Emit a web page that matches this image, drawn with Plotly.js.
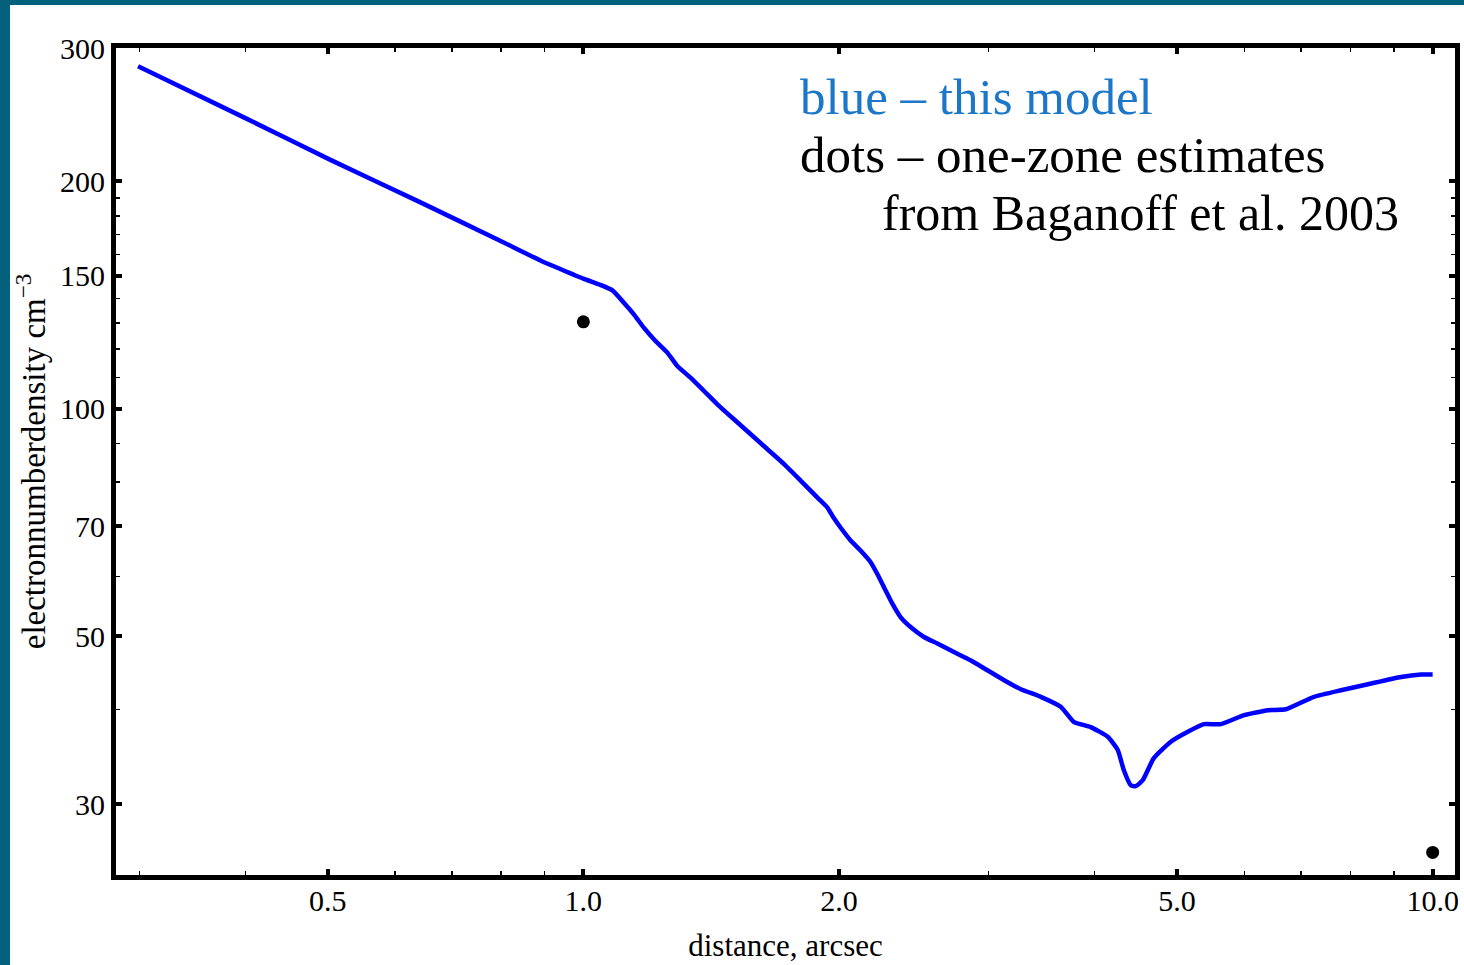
<!DOCTYPE html>
<html><head><meta charset="utf-8">
<script src="https://cdn.plot.ly/plotly-3.0.1.min.js"></script>
<style>
html,body{margin:0;padding:0;background:#04617d;width:1464px;height:965px;overflow:hidden;}
#chart{position:absolute;left:10px;top:5px;width:1454px;height:960px;background:#fff;}
</style></head><body><div id="chart"></div><script>
// model curve (blue): distance in arcsec, electron number density in cm^-3
const distArcsec = [0.299,0.400,0.503,0.643,0.799,0.890,0.940,1.000,1.047,1.082,1.116,1.146,1.178,1.216,1.255,1.290,1.337,1.386,1.437,1.503,1.573,1.646,1.722,1.802,1.885,1.937,1.970,2.008,2.064,2.120,2.179,2.218,2.269,2.311,2.363,2.428,2.518,2.611,2.731,2.857,2.990,3.129,3.274,3.456,3.648,3.779,3.957,4.144,4.258,4.328,4.411,4.472,4.557,4.695,4.917,5.149,5.378,5.632,5.996,6.398,6.718,7.247,7.798,8.391,9.177,9.688,10.0];
const density = [284.0,242.5,213.7,187.6,166.8,157.2,153.1,148.7,145.9,143.5,138.2,133.5,128.1,123.0,118.8,114.0,110.0,105.7,101.5,96.97,92.65,88.52,84.59,80.40,76.39,74.10,71.82,69.69,66.98,64.97,62.70,60.52,57.53,55.25,53.04,51.46,49.92,48.93,47.69,46.50,45.11,43.76,42.58,41.60,40.36,38.56,37.94,36.84,35.38,33.29,31.78,31.69,32.27,34.51,36.28,37.40,38.28,38.28,39.34,39.94,40.06,41.60,42.45,43.23,44.20,44.53,44.53];
// one-zone estimates (dots)
const dotDist = [1.0, 10.0];
const dotDensity = [130.4, 25.9];
// ticks
const xTickVals = [0.5, 1, 2, 5, 10];
const xTickText = ['0.5', '1.0', '2.0', '5.0', '10.0'];
const xMinorVals = [0.3, 0.4, 0.6, 0.7, 0.8, 0.9, 3, 4, 6, 7, 8, 9];
const yTickVals = [30, 50, 70, 100, 150, 200, 300];
const yTickText = ['30', '50', '70', '100', '150', '200', '300'];
const yMinorVals = [40, 60, 80, 90, 110, 120, 130, 140, 160, 170, 180, 190];
const legendLines = ['blue – this model', 'dots – one-zone estimates', 'from Baganoff et al. 2003'];

const serif = 'Liberation Serif, Times New Roman, serif';
const traces = [
  {x: distArcsec, y: density, type: 'scatter', mode: 'lines',
   line: {color: '#0000ff', width: 4.5, shape: 'spline', smoothing: 0.5}, hoverinfo: 'x+y'},
  {x: dotDist, y: dotDensity, type: 'scatter', mode: 'markers',
   marker: {color: '#000', size: 13, symbol: 'circle'}}
];
const axisCommon = {
  type: 'log', tickmode: 'array', ticks: 'inside', ticklen: 6, tickwidth: 4, tickcolor: '#000',
  showline: true, linewidth: 5, linecolor: '#000', mirror: 'ticks',
  showgrid: false, zeroline: false,
  tickfont: {family: serif, size: 30, color: '#000'},
  automargin: false
};
const layout = {
  width: 1454, height: 960,
  margin: {l: 106, r: 9, t: 43, b: 90},
  paper_bgcolor: '#fff', plot_bgcolor: '#fff',
  showlegend: false,
  xaxis: Object.assign({}, axisCommon, {
    range: [-0.5503, 1.0263], tickvals: xTickVals, ticktext: xTickText,
    ticklabelstandoff: -5,
    minor: {tickmode: 'array', tickvals: xMinorVals, ticks: 'inside', ticklen: 4, tickwidth: 1.5, tickcolor: '#000', showgrid: false},
    title: {text: 'distance, arcsec', font: {family: serif, size: 31, color: '#000'}, standoff: 20}
  }),
  yaxis: Object.assign({}, axisCommon, {
    range: [1.3834, 2.4775], tickvals: yTickVals, ticktext: yTickText,
    minor: {tickmode: 'array', tickvals: yMinorVals, ticks: 'inside', ticklen: 4, tickwidth: 1.5, tickcolor: '#000', showgrid: false},
    title: {text: 'electronnumberdensity cm<sup>−3</sup>', font: {family: serif, size: 33, color: '#000'}, standoff: 10}
  }),
  annotations: [
    {text: legendLines[0], xref: 'paper', yref: 'paper', x: 0.5093, y: 0.9407, xanchor: 'left', yanchor: 'middle', showarrow: false,
     font: {family: serif, size: 51, color: '#1c77c8'}},
    {text: legendLines[1], xref: 'paper', yref: 'paper', x: 0.5093, y: 0.8706, xanchor: 'left', yanchor: 'middle', showarrow: false,
     font: {family: serif, size: 51, color: '#000'}},
    {text: legendLines[2], xref: 'paper', yref: 'paper', x: 0.5706, y: 0.8005, xanchor: 'left', yanchor: 'middle', showarrow: false,
     font: {family: serif, size: 50, color: '#000'}}
  ]
};
Plotly.newPlot('chart', traces, layout, {displayModeBar: false, staticPlot: true});
</script></body></html>
